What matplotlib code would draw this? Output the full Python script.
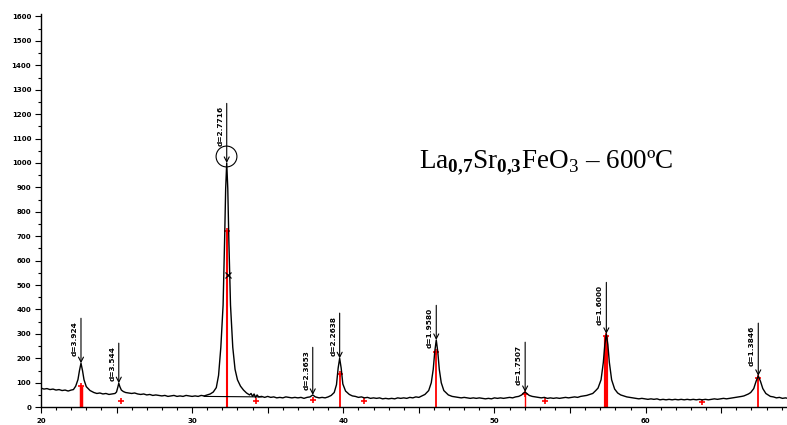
import matplotlib
matplotlib.use("Agg")
import matplotlib.pyplot as plt
from matplotlib.ticker import MultipleLocator, FuncFormatter

plt.rcParams['mathtext.fontset'] = 'custom'
plt.rcParams['mathtext.rm'] = 'Liberation Serif'
plt.rcParams['mathtext.bf'] = 'Liberation Serif:bold'

# Measured XRD trace (2theta in degrees, counts)
two_theta = [20.0, 20.2, 20.4, 20.6, 20.8, 21.0, 21.2, 21.4, 21.6, 21.8, 22.0, 22.15, 22.3, 22.45, 22.55, 22.65,
             22.75, 22.85, 23.0, 23.25, 23.5, 23.7, 23.9, 24.1, 24.3, 24.5, 24.7, 24.9, 25.0, 25.08, 25.15, 25.22,
             25.32, 25.45, 25.6, 25.8, 26.0, 26.2, 26.4, 26.6, 26.8, 27.0, 27.2, 27.4, 27.6, 27.8, 28.0, 28.2,
             28.4, 28.6, 28.8, 29.0, 29.2, 29.4, 29.6, 29.8, 30.0, 30.2, 30.4, 30.6, 30.8, 31.0, 31.2, 31.4,
             31.6, 31.75, 31.9, 32.05, 32.15, 32.22, 32.29, 32.36, 32.43, 32.54, 32.69, 32.84, 33.0, 33.2, 33.4, 33.6,
             33.8, 33.9, 34.0, 34.1, 34.2, 34.3, 34.4, 34.6, 34.8, 35.0, 35.2, 35.4, 35.6, 35.8, 36.0, 36.2,
             36.4, 36.6, 36.8, 37.0, 37.2, 37.4, 37.6, 37.8, 37.98, 38.15, 38.4, 38.6, 38.8, 39.0, 39.2, 39.4,
             39.55, 39.66, 39.76, 39.86, 39.97, 40.15, 40.4, 40.6, 40.8, 41.0, 41.2, 41.4, 41.6, 41.8, 42.0, 42.2,
             42.4, 42.6, 42.8, 43.0, 43.2, 43.4, 43.6, 43.8, 44.0, 44.2, 44.4, 44.6, 44.8, 45.0, 45.2, 45.4,
             45.65, 45.82, 45.95, 46.05, 46.15, 46.25, 46.35, 46.48, 46.65, 46.95, 47.2, 47.4, 47.6, 47.8, 48.0, 48.2,
             48.4, 48.6, 48.8, 49.0, 49.2, 49.4, 49.6, 49.8, 50.0, 50.2, 50.4, 50.6, 50.8, 51.0, 51.2, 51.4,
             51.6, 51.8, 51.92, 52.03, 52.14, 52.3, 52.5, 52.7, 52.9, 53.1, 53.3, 53.5, 53.7, 53.9, 54.1, 54.3,
             54.5, 54.7, 54.9, 55.1, 55.3, 55.5, 55.7, 55.9, 56.1, 56.3, 56.5, 56.7, 56.85, 57.05, 57.2, 57.3,
             57.4, 57.5, 57.6, 57.75, 57.95, 58.15, 58.35, 58.55, 58.75, 58.95, 59.15, 59.35, 59.55, 59.75, 59.95, 60.15,
             60.35, 60.55, 60.75, 60.95, 61.15, 61.35, 61.55, 61.75, 61.95, 62.15, 62.35, 62.55, 62.75, 62.95, 63.15, 63.35,
             63.55, 63.75, 63.95, 64.15, 64.35, 64.55, 64.75, 64.95, 65.15, 65.35, 65.55, 65.75, 65.95, 66.15, 66.35, 66.5,
             66.65, 66.8, 66.95, 67.15, 67.3, 67.45, 67.6, 67.75, 67.95, 68.25, 68.45, 68.65, 68.85, 69.05, 69.25, 69.4]
intensity = [78, 74, 76, 72, 74, 70, 72, 68, 70, 66, 70, 72, 86, 113, 150, 180,
             150, 112, 84, 68, 60, 56, 58, 54, 56, 52, 54, 56, 62, 80, 98, 84,
             70, 64, 60, 58, 56, 58, 54, 52, 54, 50, 52, 48, 50, 48, 46, 48,
             44, 46, 48, 44, 46, 44, 48, 46, 44, 46, 44, 48, 46, 50, 54, 62,
             80, 130, 245, 418, 685, 895, 1000, 895, 685, 418, 245, 155, 112, 86, 70, 58,
             50, 56, 44, 54, 40, 50, 42, 44, 40, 44, 40, 42, 38, 40, 38, 42,
             40, 38, 40, 38, 40, 36, 40, 42, 50, 42, 38, 40, 38, 42, 48, 60,
             92, 160, 200, 160, 95, 66, 52, 46, 44, 40, 42, 38, 40, 36, 38, 36,
             38, 34, 36, 34, 36, 34, 38, 36, 38, 36, 40, 38, 42, 40, 46, 52,
             68, 100, 155, 227, 275, 227, 155, 100, 68, 50, 44, 42, 40, 38, 40, 38,
             36, 38, 36, 38, 36, 34, 36, 34, 38, 36, 38, 36, 38, 40, 38, 42,
             44, 50, 58, 62, 56, 48, 44, 42, 40, 38, 40, 36, 38, 36, 38, 36,
             38, 40, 38, 40, 42, 40, 44, 46, 48, 52, 56, 68, 78, 112, 183, 256,
             300, 256, 183, 112, 74, 58, 50, 46, 42, 40, 38, 36, 34, 36, 34, 32,
             34, 32, 34, 30, 32, 30, 32, 30, 32, 30, 32, 30, 32, 30, 32, 30,
             32, 30, 32, 30, 32, 34, 32, 34, 36, 34, 36, 38, 40, 42, 44, 46,
             50, 54, 60, 76, 105, 128, 105, 76, 56, 44, 42, 38, 40, 36, 38, 36]

# Peak annotations
peak_pos = [22.65, 25.15, 32.29, 37.98, 39.76, 46.15, 52.03, 57.4, 67.45]
peak_top = [180, 98, 1000, 50, 200, 275, 62, 300, 128]
label_top = [364, 262, 1244, 245, 385, 417, 266, 511, 344]
peak_labels = ["d=3.924", "d=3.544", "d=2.7716", "d=2.3653", "d=2.2638",
               "d=1.9580", "d=1.7507", "d=1.6000", "d=1.3846"]

# Reference pattern (red sticks)
ref_pos = [22.65, 32.29, 39.76, 46.15, 52.03, 57.4, 67.45]
ref_height = [88, 720, 135, 225, 55, 290, 120]
ref_width = [2.5, 1.5, 1.3, 1.3, 1.0, 3.0, 1.3]
minor_pos = [25.3, 34.2, 37.98, 41.4, 53.36, 63.75]
minor_height = [25, 25, 28, 25, 25, 22]

fig = plt.figure(figsize=(7.87, 4.25), dpi=100)
ax = fig.add_axes([0.052, 0.042, 0.948, 0.925])

for p, h, w in zip(ref_pos, ref_height, ref_width):
    ax.vlines(p, 0, h, color='#ff0000', lw=w, zorder=2)
ax.plot(ref_pos, ref_height, '+', color='#ff0000', ms=4, mew=1.2, zorder=3)
ax.plot(minor_pos, minor_height, '+', color='#ff0000', ms=4, mew=1.2, zorder=3)

ax.plot(two_theta, intensity, color='black', lw=1.0, zorder=4)

# background segment under main peak
ax.plot([30.8, 34.6], [44, 42], color='black', lw=0.8, zorder=4)
ax.plot([32.35], [540], 'x', color='black', ms=4, mew=0.9, zorder=5)
ax.plot([32.27], [1030], 'o', mfc='none', mec='black', ms=15, mew=0.8, zorder=5)

for p, pt, lt, lab in zip(peak_pos, peak_top, label_top, peak_labels):
    ax.annotate('', xy=(p, pt), xytext=(p, lt),
                arrowprops=dict(arrowstyle='->,head_length=0.35,head_width=0.18',
                                color='black', lw=0.8, shrinkA=0, shrinkB=0), zorder=6)
    ax.annotate(lab, xy=(p, lt), xytext=(-4.5, -2), textcoords='offset points',
                rotation=90, ha='center', va='top', fontsize=5.3, fontweight='bold')

ax.text(0.533, 0.617,
        r'La$_{\mathbf{0{,}7}}$Sr$_{\mathbf{0{,}3}}$FeO$_{\mathrm{3}}$ – 600ºC',
        transform=fig.transFigure, fontsize=19.5, family='Liberation Serif',
        ha='left', va='center')

ax.set_xlim(20, 69.35)
ax.set_ylim(0, 1610)
for s in ['top', 'right']:
    ax.spines[s].set_visible(False)
ax.spines['left'].set_linewidth(1.0)
ax.spines['bottom'].set_linewidth(1.0)

ax.xaxis.set_major_locator(MultipleLocator(5))
ax.xaxis.set_minor_locator(MultipleLocator(1))
ax.xaxis.set_major_formatter(FuncFormatter(lambda v, p: f"{int(round(v))}" if round(v) % 10 == 0 else ""))
ax.yaxis.set_major_locator(MultipleLocator(100))
ax.yaxis.set_minor_locator(MultipleLocator(50))
ax.tick_params(axis='both', which='major', length=4, width=0.8, labelsize=5, pad=3)
ax.tick_params(axis='x', which='major', pad=3.5)
ax.tick_params(axis='both', which='minor', length=2.5, width=0.8)
for t in ax.get_xticklabels() + ax.get_yticklabels():
    t.set_fontweight('bold')

fig.savefig('out.png', dpi=100)
